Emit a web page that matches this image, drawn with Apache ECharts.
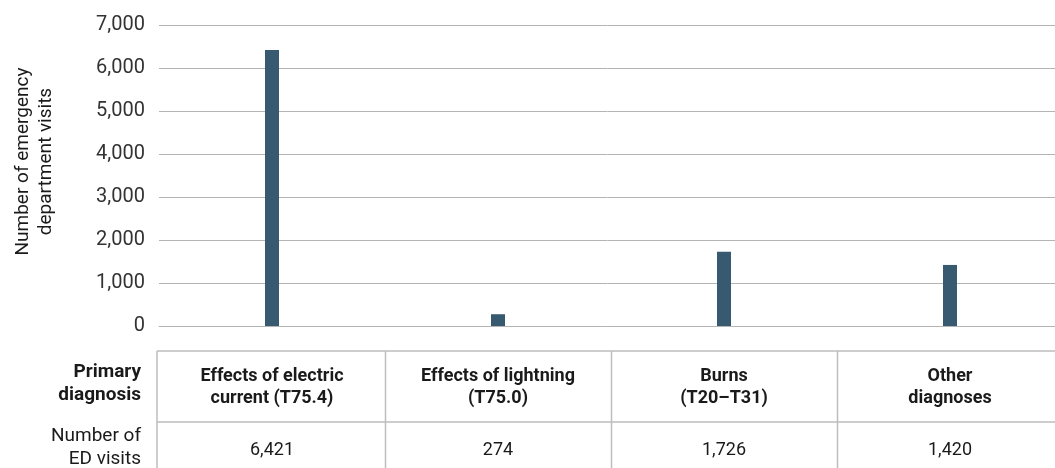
<!DOCTYPE html>
<html><head><meta charset="utf-8">
<script src="https://cdn.jsdelivr.net/npm/echarts@6/dist/echarts.min.js"></script>
<style>html,body{margin:0;padding:0;background:#fff}#c{width:1055px;height:468px}</style>
</head><body><div id="c"></div>
<script>
const categories = ['Effects of electric\ncurrent (T75.4)', 'Effects of lightning\n(T75.0)', 'Burns\n(T20–T31)', 'Other\ndiagnoses'];
const visits = [6421, 274, 1726, 1420];
const yTicks = [0, 1000, 2000, 3000, 4000, 5000, 6000, 7000];
const rowHeaders = ['Primary\ndiagnosis', 'Number of\nED visits'];
const yAxisTitle = 'Number of emergency\ndepartment visits';

const fmt = v => v.toLocaleString('en-US');
const chart = echarts.init(document.getElementById('c'), null, {renderer: 'canvas'});
const gridColor = '#b4b4b4';
const option = {
  animation: false,
  grid: {left: 159, top: 25, width: 904, height: 301, outerBoundsMode: 'none', containLabel: false},
  xAxis: [{
    type: 'category', data: categories, position: 'bottom',
    axisLine: {show: true, lineStyle: {color: gridColor}}, axisTick: {show: false},
    axisLabel: {interval: 0, margin: 39, fontFamily: 'Roboto', fontWeight: 'bold', fontSize: 18, color: '#1a1a1a', lineHeight: 22}
  }, {
    type: 'category', data: visits.map(fmt), position: 'bottom',
    axisLine: {show: false}, axisTick: {show: false},
    axisLabel: {interval: 0, margin: 113, fontFamily: 'Roboto', fontSize: 18, color: '#1a1a1a', lineHeight: 22}
  }],
  yAxis: {
    type: 'value', min: yTicks[0], max: yTicks[yTicks.length - 1], interval: 1000,
    name: yAxisTitle, nameLocation: 'middle', nameGap: 101, nameRotate: 90,
    nameTextStyle: {fontFamily: 'Roboto', fontSize: 19, color: '#1a1a1a', lineHeight: 23, padding: [0, 0, 0, 28]},
    axisLine: {show: false}, axisTick: {show: false},
    axisLabel: {margin: 14, fontFamily: 'Roboto', fontSize: 20, color: '#333', formatter: v => fmt(v)},
    splitLine: {lineStyle: {color: gridColor, width: 1}}
  },
  series: [{type: 'bar', data: visits, barWidth: 14, itemStyle: {color: '#375a70'}, xAxisIndex: 0}]
};
chart.setOption(option);

function drawTable() {
  const centers = categories.map((c, i) => chart.convertToPixel({xAxisIndex: 0}, i));
  const left = 157, top = 351, mid = 422, bottom = 468, right = 1055;
  const lines = [
    [left, top, right, top], [left, mid, right, mid], [left, top, left, bottom]
  ];
  for (let i = 0; i < centers.length - 1; i++) {
    const x = Math.round((centers[i] + centers[i + 1]) / 2) + 0.5;
    lines.push([x, top, x, bottom]);
  }
  const els = lines.map(l => ({type: 'line', shape: {x1: l[0], y1: l[1], x2: l[2], y2: l[3]}, style: {stroke: '#bdbdbd', lineWidth: 1.5}, silent: true}));
  els.push({type: 'text', right: 1055 - 141, top: 361, style: {text: rowHeaders[0], font: 'bold 19px Roboto', fill: '#1a1a1a', textAlign: 'right', lineHeight: 23}});
  els.push({type: 'text', right: 1055 - 141, top: 425, style: {text: rowHeaders[1], font: '19px Roboto', fill: '#1a1a1a', textAlign: 'right', lineHeight: 23}});
  chart.setOption({graphic: els});
}
drawTable();
</script></body></html>
